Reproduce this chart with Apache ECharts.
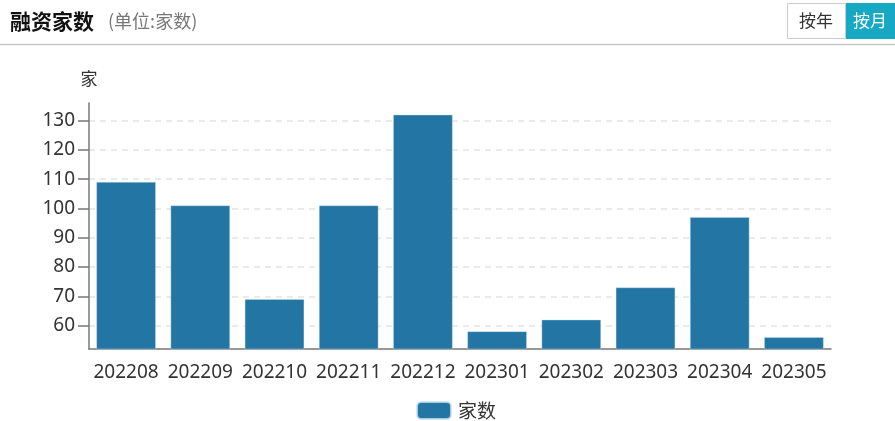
<!DOCTYPE html>
<html>
<head>
<meta charset="utf-8">
<script src="https://cdn.jsdelivr.net/npm/echarts@6/dist/echarts.min.js"></script>
<style>
html,body{margin:0;padding:0;background:#fff;}
#c{width:895px;height:421px;}
</style>
</head>
<body>
<div id="c"></div>
<script>
const categories = ['202208','202209','202210','202211','202212','202301','202302','202303','202304','202305'];
const counts = [109, 101, 69, 101, 132, 58, 62, 73, 97, 56];
const yTicks = [60, 70, 80, 90, 100, 110, 120, 130];
const seriesName = '家数';
const titleText = '融资家数';
const unitText = '(单位:家数)';
const yAxisName = '家';
const buttons = ['按年', '按月'];

const FONT = '"Noto Sans", "Noto Sans CJK SC", sans-serif';
const CJK = '"Noto Sans CJK SC", sans-serif';
const chart = echarts.init(document.getElementById('c'), null, {renderer: 'canvas'});
const dataMin = Math.min(...counts), dataMax = Math.max(...counts);

chart.setOption({
  animation: false,
  textStyle: {fontFamily: FONT},
  title: {
    left: 5, top: 6,
    text: '{a|' + titleText + '}   {b|' + unitText + '}',
    textStyle: {
      fontWeight: 'normal',
      rich: {
        a: {fontSize: 21, fontWeight: 'bold', color: '#111', fontFamily: CJK},
        b: {fontSize: 18, fontWeight: 'normal', color: '#777', fontFamily: CJK}
      }
    }
  },
  graphic: [
    {type: 'line', shape: {x1: 0, y1: 44.5, x2: 895, y2: 44.5}, style: {stroke: '#c8c8c8', lineWidth: 1.5}},
    {type: 'rect', shape: {x: 787.5, y: 3.5, width: 58, height: 35}, style: {fill: '#fff', stroke: '#ccc', lineWidth: 1}},
    {type: 'rect', shape: {x: 846, y: 3, width: 49, height: 36}, style: {fill: '#17a9c4'}},
    {type: 'text', x: 816, y: 21, style: {text: buttons[0], fill: '#333', fontSize: 17, fontFamily: CJK, align: 'center', verticalAlign: 'middle'}},
    {type: 'text', x: 870, y: 21, style: {text: buttons[1], fill: '#fff', fontSize: 17, fontFamily: CJK, align: 'center', verticalAlign: 'middle'}}
  ],
  legend: {
    top: 396, left: 411,
    itemWidth: 34, itemHeight: 17,
    itemGap: 10,
    textStyle: {fontSize: 19, color: '#333', fontFamily: CJK, padding: [0, 0, 0, 2]},
    data: [seriesName]
  },
  grid: {left: 89, right: 64, top: 103, bottom: 72, containLabel: false},
  xAxis: {
    type: 'category',
    data: categories,
    axisLine: {lineStyle: {color: '#777', width: 1.5}},
    axisTick: {alignWithLabel: true, length: 11, lineStyle: {color: '#777', width: 1.5}},
    axisLabel: {fontSize: 19, color: '#333', margin: 14, interval: 0}
  },
  yAxis: {
    type: 'value',
    name: yAxisName,
    nameLocation: 'end',
    nameGap: 16,
    nameTextStyle: {fontSize: 17, color: '#333', align: 'center', fontFamily: CJK},
    min: dataMin - 4,
    max: dataMax + 4,
    axisLine: {show: true, lineStyle: {color: '#777', width: 1.5}},
    axisTick: {show: true, length: 11, customValues: yTicks, lineStyle: {color: '#777', width: 1.5}},
    axisLabel: {fontSize: 19, color: '#333', margin: 14, customValues: yTicks},
    splitLine: {show: true, lineStyle: {color: '#e3e3e3', type: [6, 5], width: 1.5}}
  },
  series: [{
    name: seriesName,
    type: 'bar',
    data: counts,
    barWidth: '80%',
    itemStyle: {color: '#2376a3', borderColor: 'rgba(200,225,240,0.8)', borderWidth: 0.5}
  }]
});
</script>
</body>
</html>
